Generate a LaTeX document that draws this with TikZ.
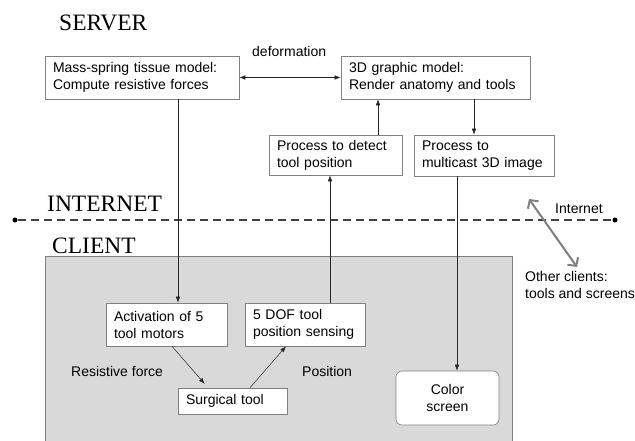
\documentclass[tikz,border=0pt]{standalone}
\usepackage{fontspec}
\setmainfont{Liberation Serif}
\setsansfont{Liberation Sans}
\usetikzlibrary{arrows.meta}

\tikzset{
  box/.style={draw=gray, line width=0.6pt, fill=white, align=left,
    font=\sffamily\fontsize{14}{17}\selectfont, inner xsep=8pt, inner ysep=0pt},
  lbl/.style={font=\sffamily\fontsize{14}{17}\selectfont, anchor=base west, inner sep=0pt},
  title/.style={font=\fontsize{23.5}{28}\selectfont, anchor=base west, inner sep=0pt},
  link/.style={draw=black!85, line width=0.5pt, -{Latex[length=6pt,width=4.5pt]}},
  dot/.style={circle, fill=black, inner sep=0pt, minimum size=5pt},
}

\begin{document}
\begin{tikzpicture}[x=1pt, y=-1pt]
    \useasboundingbox (0,0) rectangle (635,440);
    % client area
    \fill[gray!30] (45,256) rectangle (512,441);
    \draw[gray, line width=0.6pt] (45,441) -- (45,256) -- (512,256) -- (512,441);

    \node[title] (server) at (59,30) {SERVER};
    \node[title] (internet) at (47,211) {INTERNET};
    \node[title] (client) at (52,253) {CLIENT};

    % server side
    \node[box, text width=178pt, minimum height=43pt] (mass) at (142,77.5)
      {Mass-spring tissue model:\\Compute resistive forces};
    \node[box, text width=173pt, minimum height=43pt] (graphic) at (435.5,77.5)
      {3D graphic model:\\Render anatomy and tools};
    \node[box, text width=117pt, minimum height=40pt] (detect) at (335.5,155)
      {Process to detect\\tool position};
    \node[box, text width=124pt, minimum height=41pt] (multicast) at (484,155.5)
      {Process to\\multicast 3D image};

    % client side
    \node[box, text width=105pt, minimum height=43pt] (motors) at (166.5,324.5)
      {Activation of 5\\tool motors};
    \node[box, text width=104pt, minimum height=43pt] (sensing) at (305,324.5)
      {5 DOF tool\\position sensing};
    \node[box, text width=93pt, minimum height=26pt] (tool) at (232.5,401)
      {Surgical tool};
    \node[box, align=center, rounded corners=6pt, minimum width=103pt,
      minimum height=54pt] (screen) at (447.5,398) {Color\\screen};

    \node[lbl] (deform) at (252,56) {deformation};
    \node[lbl] (resist) at (71,376) {Resistive force};
    \node[lbl] (pos) at (302,376) {Position};
    \node[lbl] (net) at (555,213) {Internet};
    \node[lbl, align=left] (others) at (525,298) {Other clients:\\tools and screens};

    % internet line
    \node[dot] (west) at (15,220) {};
    \node[dot] (east) at (615,220) {};
    \draw[black!75, line width=1.2pt, dash pattern=on 8pt off 5pt] (west) -- (east);

    % connectors
    \draw[link, {Latex[length=6pt,width=4.5pt]}-{Latex[length=6pt,width=4.5pt]}]
      (mass.east) -- (graphic.west);
    \draw[link] ([xshift=36pt]mass.south) -- ([xshift=11.5pt]motors.north);
    \draw[link] ([xshift=38.5pt]graphic.south) -- ([xshift=-10pt]multicast.north);
    \draw[link] ([xshift=42.5pt]detect.north) -- ([xshift=-57.5pt]graphic.south);
    \draw[link] ([xshift=25pt]sensing.north) -- ([xshift=-5.5pt]detect.south);
    \draw[link] ([xshift=-27pt]multicast.south) -- ([xshift=9.5pt]screen.north);
    \draw[link, shorten >=5pt] ([xshift=5.5pt]motors.south) -- ([xshift=-24.5pt]tool.north);
    \draw[link] ([xshift=17.5pt]tool.north) -- ([xshift=-19pt]sensing.south);

    % other clients
    \coordinate (upper) at (529,199);
    \coordinate (lower) at (577,267);
    \draw[gray, line width=2pt,
      {Straight Barb[length=6pt,width=13pt]}-{Straight Barb[length=6pt,width=13pt]}]
      (upper) -- (lower);
  \end{tikzpicture}
\end{document}
